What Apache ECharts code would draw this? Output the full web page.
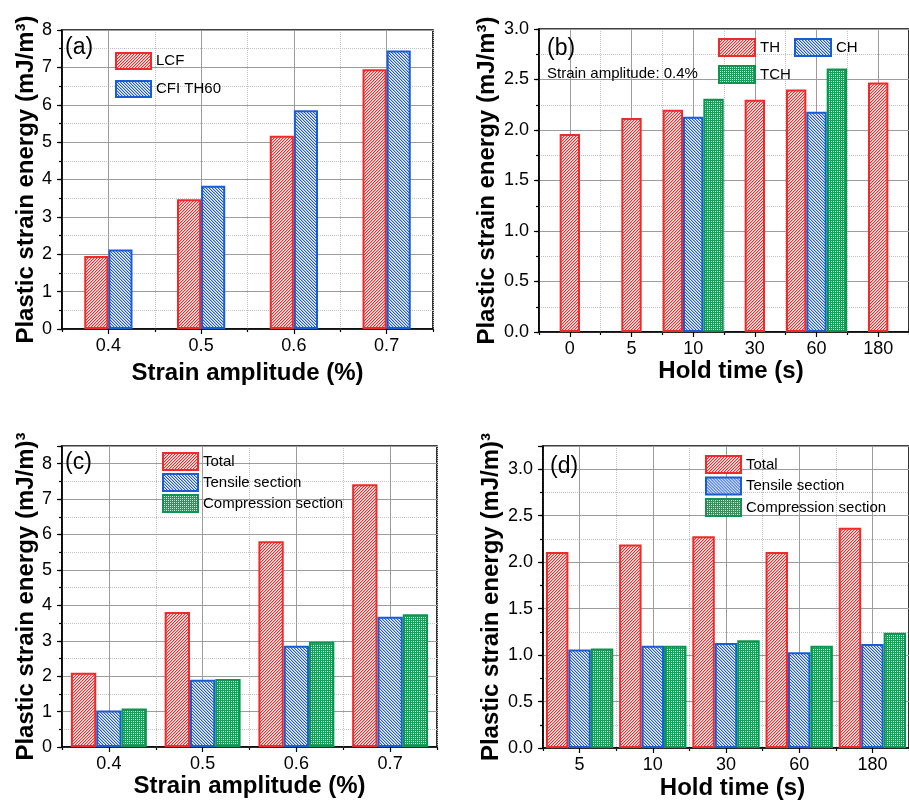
<!DOCTYPE html>
<html><head><meta charset="utf-8">
<script src="https://cdn.jsdelivr.net/npm/echarts@6/dist/echarts.min.js"></script>
<style>html,body{margin:0;padding:0;background:#fff}#c{width:909px;height:802px}</style>
</head><body><div id="c"></div>
<script>
// ---- data ----
const catsA = ['0.4', '0.5', '0.6', '0.7'];
const lcfA = [1.95, 3.47, 5.17, 6.95];
const cfiA = [2.13, 3.83, 5.85, 7.45];

const catsB = ['0', '5', '10', '30', '60', '180'];
const thB = [1.96, 2.12, 2.20, 2.30, 2.40, 2.47];
const chB = [null, null, 2.13, null, 2.18, null];
const tchB = [null, null, 2.31, null, 2.61, null];

const catsC = ['0.4', '0.5', '0.6', '0.7'];
const totalC = [2.10, 3.81, 5.81, 7.42];
const tensileC = [1.03, 1.90, 2.86, 3.68];
const compC = [1.09, 1.92, 2.97, 3.75];

const catsD = ['5', '10', '30', '60', '180'];
const totalD = [2.11, 2.19, 2.28, 2.11, 2.37];
const tensileD = [1.06, 1.10, 1.13, 1.03, 1.12];
const compD = [1.07, 1.10, 1.16, 1.10, 1.24];

const yTitle1 = 'Plastic strain energy (mJ/m³)';
const yTitle2 = 'Plastic strain energy (mJ/m)³';

// ---- styles ----
const FONT = '"Liberation Sans", Arial, sans-serif';
const RED = '#f02a2a', BLUE = '#1a5dd3', GREEN = '#0e9450';

function pattern(kind, rgb) {
  const n = kind === 'dot' ? 4 : 3;
  const c = document.createElement('canvas'); c.width = n; c.height = n;
  const ctx = c.getContext('2d');
  const img = ctx.createImageData(n, n);
  for (let y = 0; y < n; y++) for (let x = 0; x < n; x++) {
    let a;
    if (kind === '/') { const k = (x + y) % 3; a = k === 0 ? 1 : (k === 1 ? 0.4 : 0.05); }
    else if (kind === '\\') { const k = (x - y + 6) % 3; a = k === 0 ? 1 : (k === 1 ? 0.4 : 0.05); }
    else {
      a = 0.95;
      if ((x === 1 && y === 1) || (x === 3 && y === 3)) a = 0;
      if ((x === 1 && y === 3) || (x === 3 && y === 1)) a = 0.35;
    }
    const i = (y * n + x) * 4;
    img.data[i] = Math.round(255 + (rgb[0] - 255) * a);
    img.data[i + 1] = Math.round(255 + (rgb[1] - 255) * a);
    img.data[i + 2] = Math.round(255 + (rgb[2] - 255) * a);
    img.data[i + 3] = 255;
  }
  ctx.putImageData(img, 0, 0);
  return { image: c, repeat: 'repeat' };
}
const redFill = pattern('/', [240, 45, 45]);
const blueFill = pattern('\\', [30, 90, 210]);
const greenFill = pattern('dot', [16, 150, 80]);
const STY = {
  red: { color: redFill, borderColor: RED, borderWidth: 2 },
  blue: { color: blueFill, borderColor: BLUE, borderWidth: 2 },
  green: { color: greenFill, borderColor: GREEN, borderWidth: 2 }
};

const grids = [], xAxes = [], yAxes = [], series = [], legends = [];

function addPanel(p) {
  const gi = grids.length;
  grids.push({ left: p.left, top: p.top, right: p.right, bottom: p.bottom, show: true,
    borderColor: '#000', borderWidth: 1.6, backgroundColor: 'transparent' });
  const xi = xAxes.length;
  xAxes.push({ type: 'category', gridIndex: gi, data: p.cats, position: 'bottom', boundaryGap: true, z: 1,
    name: p.xName, nameLocation: 'middle', nameGap: p.xNameGap,
    nameTextStyle: { fontSize: 24, fontWeight: 'bold', color: '#000', fontFamily: FONT, padding: [0, 0, 0, p.xShift || 0] },
    axisLine: { show: true, lineStyle: { color: '#000', width: 1.6 } },
    axisTick: { show: true, alignWithLabel: true, length: 5, lineStyle: { color: '#000', width: 1.2 } },
    axisLabel: { fontSize: 18, color: '#000', margin: 8, fontFamily: FONT },
    splitLine: { show: true, alignWithLabel: true, lineStyle: { color: '#9c9c9c', width: 1 } } });
  xAxes.push({ type: 'category', gridIndex: gi, data: p.cats, position: 'bottom', boundaryGap: true, z: 0,
    axisLine: { show: false }, axisLabel: { show: false },
    axisTick: { show: true, length: 3, lineStyle: { color: '#000', width: 1.2 } },
    splitLine: { show: true, lineStyle: { color: '#c2c2c2', type: 'dotted', width: 1 } } });
  const yi = yAxes.length;
  yAxes.push({ type: 'value', gridIndex: gi, position: 'left', min: 0, max: p.ymax, interval: p.yint, z: 1,
    name: p.yName, nameLocation: 'middle', nameGap: p.yNameGap,
    nameTextStyle: { fontSize: 24, fontWeight: 'bold', color: '#000', fontFamily: FONT },
    axisLine: { show: true, lineStyle: { color: '#000', width: 1.6 } },
    axisTick: { show: true, length: 5, lineStyle: { color: '#000', width: 1.2 } },
    axisLabel: { fontSize: 18, color: '#000', margin: 10, fontFamily: FONT,
      formatter: v => (Math.abs(v / p.yint - Math.round(v / p.yint)) > 1e-6 ? '' : v.toFixed(p.dec)) },
    splitLine: { show: true, lineStyle: { color: '#9c9c9c', width: 1 } } });
  yAxes.push({ type: 'value', gridIndex: gi, position: 'left', min: 0, max: p.ymax, interval: p.yint / 2, z: 0,
    axisLine: { show: false }, axisLabel: { show: false },
    axisTick: { show: true, length: 3, lineStyle: { color: '#000', width: 1.2 } },
    splitLine: { show: true, lineStyle: { color: '#c2c2c2', type: 'dotted', width: 1 } } });
  p.series.forEach(s => {
    const o = { type: 'bar', name: s.name, data: s.data, xAxisIndex: xi, yAxisIndex: yi,
      barGap: '0%', barCategoryGap: p.gap, itemStyle: STY[s.sty], z: 2 };
    if (s.stack) o.stack = s.stack;
    series.push(o);
  });
  p.legends.forEach(l => legends.push(Object.assign({
    icon: 'rect', selectedMode: false, padding: 0,
    textStyle: { fontSize: 15, color: '#000', fontFamily: FONT }
  }, l)));
}

// (b) split TH into grouped slot and centered single bars
const thGroupB = thB.map((v, i) => (chB[i] != null ? v : null));
const thSingleB = thB.map((v, i) => (chB[i] == null ? v : null));

addPanel({ left: 62, top: 30, right: 476, bottom: 473, cats: catsA, ymax: 8, yint: 1, dec: 0,
  xName: 'Strain amplitude (%)', xNameGap: 32, yName: yTitle1, yNameGap: 24, gap: '48%',
  series: [{ name: 'LCF', data: lcfA, sty: 'red' }, { name: 'CFI TH60', data: cfiA, sty: 'blue' }],
  legends: [{ left: 115, top: 52, orient: 'vertical', itemWidth: 35, itemHeight: 16, itemGap: 10, data: ['LCF', 'CFI TH60'] }] });

addPanel({ left: 539, top: 29, right: -5, bottom: 470, cats: catsB, ymax: 3, yint: 0.5, dec: 1,
  xName: 'Hold time (s)', xNameGap: 27, xShift: 14, yName: yTitle1, yNameGap: 40, gap: '1%',
  series: [{ name: 'TH', data: thGroupB, sty: 'red' },
           { name: 'CH', data: chB, sty: 'blue', stack: 'mid' },
           { name: 'TH', data: thSingleB, sty: 'red', stack: 'mid' },
           { name: 'TCH', data: tchB, sty: 'green' }],
  legends: [{ left: 718, top: 38, orient: 'horizontal', itemWidth: 36, itemHeight: 17, itemGap: 14, data: ['TH', 'CH'] },
            { left: 718, top: 65, orient: 'horizontal', itemWidth: 36, itemHeight: 17, itemGap: 14, data: ['TCH'] }] });

addPanel({ left: 62, top: 446, right: 472, bottom: 55, cats: catsC, ymax: 8.5, yint: 1, dec: 0,
  xName: 'Strain amplitude (%)', xNameGap: 27, yName: yTitle2, yNameGap: 24, gap: '19%',
  series: [{ name: 'Total', data: totalC, sty: 'red' }, { name: 'Tensile section', data: tensileC, sty: 'blue' },
           { name: 'Compression section', data: compC, sty: 'green' }],
  legends: [{ left: 162, top: 452, orient: 'vertical', itemWidth: 35, itemHeight: 17, itemGap: 2,
    data: ['Total', 'Tensile section', 'Compression section'] }] });

addPanel({ left: 543, top: 446, right: -9, bottom: 54, cats: catsD, ymax: 3.25, yint: 0.5, dec: 1,
  xName: 'Hold time (s)', xNameGap: 28, xShift: 13, yName: yTitle2, yNameGap: 40, gap: '8%',
  series: [{ name: 'Total', data: totalD, sty: 'red' }, { name: 'Tensile section', data: tensileD, sty: 'blue' },
           { name: 'Compression section', data: compD, sty: 'green' }],
  legends: [{ left: 705, top: 455, orient: 'vertical', itemWidth: 35, itemHeight: 17, itemGap: 2.5,
    data: ['Total', 'Tensile section', 'Compression section'] }] });

function label(x, y, text, size) {
  return { type: 'text', x: x, y: y, z: 10,
    style: { text: text, fontSize: size, fontFamily: FONT, fill: '#000', align: 'left', verticalAlign: 'middle' } };
}

const chart = echarts.init(document.getElementById('c'), null, { renderer: 'canvas' });
chart.setOption({
  animation: false,
  backgroundColor: '#fff',
  grid: grids, xAxis: xAxes, yAxis: yAxes, series: series, legend: legends,
  graphic: [label(65, 48, '(a)', 23), label(547, 49, '(b)', 23), label(547, 74, 'Strain amplitude: 0.4%', 15),
            label(65, 463, '(c)', 23), label(550, 467, '(d)', 23)]
});
</script></body></html>
